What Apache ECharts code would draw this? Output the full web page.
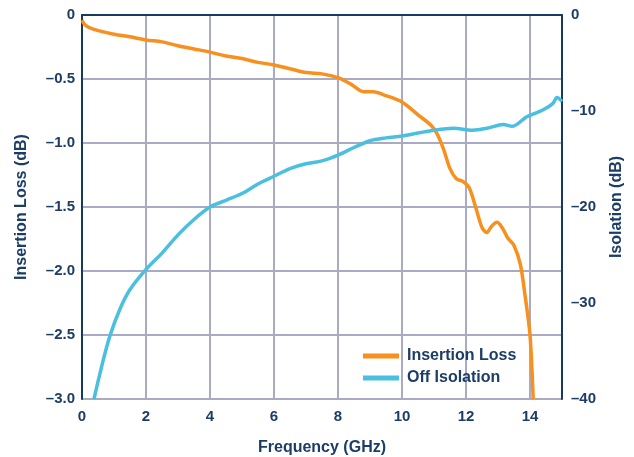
<!DOCTYPE html>
<html>
<head>
<meta charset="utf-8">
<script src="https://cdn.jsdelivr.net/npm/echarts@6/dist/echarts.min.js"></script>
<style>
  html, body { margin: 0; padding: 0; background: #fff; }
  #chart { width: 634px; height: 457px; }
</style>
</head>
<body>
<div id="chart"></div>
<script>
// insertion loss, [GHz, dB] (left axis)
const insertionLoss = [
  [0, -0.04], [0.1, -0.08], [0.35, -0.11], [1, -0.15], [1.5, -0.17],
  [2, -0.195], [2.5, -0.21], [3, -0.24], [3.5, -0.265], [4, -0.29],
  [4.5, -0.32], [5, -0.34], [5.5, -0.37], [6, -0.39], [6.5, -0.42],
  [7, -0.45], [7.5, -0.46], [8, -0.49], [8.4, -0.54], [8.8, -0.6],
  [9.1, -0.6], [9.5, -0.63], [10, -0.68], [10.5, -0.78], [10.9, -0.86],
  [11.1, -0.93], [11.3, -1.05], [11.5, -1.2], [11.7, -1.28], [11.9, -1.3],
  [12.1, -1.35], [12.3, -1.5], [12.5, -1.66], [12.65, -1.7], [12.8, -1.65],
  [12.97, -1.62], [13.15, -1.67], [13.3, -1.74], [13.5, -1.8], [13.7, -1.95],
  [13.85, -2.2], [14.0, -2.5], [14.1, -3.0]
];

// off isolation, [GHz, dB] (right axis)
const offIsolation = [
  [0.375, -40], [0.5, -38.2], [0.66, -36.0], [0.875, -33.4], [1.19, -30.6],
  [1.5, -28.6], [2, -26.5], [2.5, -24.8], [3, -22.9], [3.5, -21.3],
  [4, -20], [4.5, -19.3], [5, -18.6], [5.5, -17.6], [6, -16.8],
  [6.5, -16], [7, -15.5], [7.5, -15.2], [8, -14.6], [8.5, -13.8],
  [9, -13.1], [9.5, -12.8], [10, -12.6], [10.5, -12.3], [11, -12],
  [11.6, -11.8], [12.2, -12.0], [12.66, -11.8], [13.16, -11.4], [13.44, -11.6],
  [13.9, -10.6], [14.4, -9.9], [14.72, -9.2], [14.84, -8.6], [15, -9.0]
];

const seriesNames = ["Insertion Loss", "Off Isolation"];

const TEXT = "#1c3d66";
const AXIS = "#163a63";
const GRID = "#a9abc4";
const FONT = "Liberation Sans, Arial, sans-serif";

const dash = (v, digits) =>
  v === 0 ? "0" : "\u2013" + Math.abs(v).toFixed(digits);

const myChart = echarts.init(document.getElementById("chart"), null, { renderer: "canvas" });

const tickStyle = { color: TEXT, fontSize: 15, fontWeight: "bold", fontFamily: FONT };
const nameStyle = { color: TEXT, fontSize: 16, fontWeight: "bold", fontFamily: FONT };

myChart.setOption({
  animation: false,
  grid: { left: 82, right: 72, top: 15, bottom: 58, outerBoundsMode: "none" },
  legend: {
    orient: "vertical",
    left: 363,
    top: 348,
    padding: 0,
    itemWidth: 36,
    itemHeight: 5,
    itemGap: 6,
    icon: "rect",
    textStyle: { ...nameStyle, padding: [0, 0, 0, 3] },
    data: seriesNames
  },
  xAxis: {
    type: "value",
    min: 0,
    max: 15,
    interval: 2,
    name: "Frequency (GHz)",
    nameLocation: "middle",
    nameGap: 41,
    nameTextStyle: nameStyle,
    axisLine: { show: true, lineStyle: { color: AXIS, width: 2 } },
    axisTick: { show: false },
    axisLabel: { ...tickStyle, margin: 10, showMaxLabel: false },
    splitLine: { show: true, lineStyle: { color: GRID, width: 2 } }
  },
  yAxis: [
    {
      type: "value",
      min: -3,
      max: 0,
      interval: 0.5,
      name: "Insertion Loss (dB)",
      nameLocation: "middle",
      nameGap: 52,
      nameTextStyle: nameStyle,
      axisLine: { show: true, lineStyle: { color: AXIS, width: 2 } },
      axisTick: { show: false },
      axisLabel: { ...tickStyle, margin: 7, formatter: (v) => dash(v, 1) },
      splitLine: { show: true, lineStyle: { color: GRID, width: 2 } }
    },
    {
      type: "value",
      min: -40,
      max: 0,
      interval: 10,
      position: "right",
      name: "Isolation (dB)",
      nameLocation: "middle",
      nameGap: 47,
      nameRotate: 90,
      nameTextStyle: nameStyle,
      axisLine: { show: true, lineStyle: { color: AXIS, width: 2 } },
      axisTick: { show: false },
      axisLabel: { ...tickStyle, margin: 9, formatter: (v) => dash(v, 0) },
      splitLine: { show: false }
    }
  ],
  series: [
    {
      name: seriesNames[0],
      type: "line",
      yAxisIndex: 0,
      data: insertionLoss,
      smooth: 0.3,
      showSymbol: false,
      color: "#f7901e",
      lineStyle: { width: 3.5, color: "#f7901e" }
    },
    {
      name: seriesNames[1],
      type: "line",
      yAxisIndex: 1,
      data: offIsolation,
      smooth: 0.3,
      showSymbol: false,
      color: "#4bbfdf",
      lineStyle: { width: 3.5, color: "#4bbfdf" }
    }
  ]
});
</script>
</body>
</html>
